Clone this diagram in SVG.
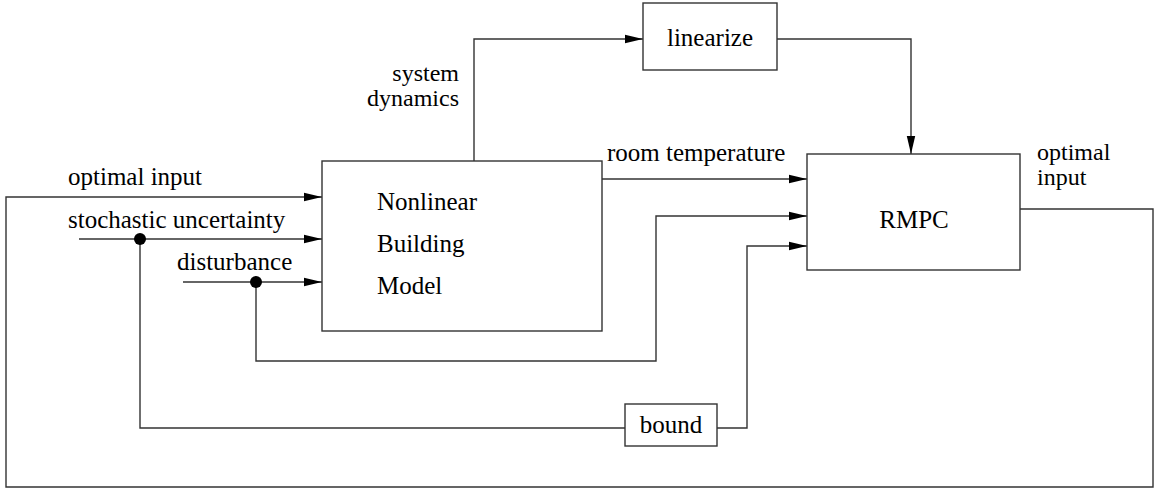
<svg xmlns="http://www.w3.org/2000/svg" width="1155" height="489" viewBox="0 0 1155 489">
<defs>
<marker id="arr" markerWidth="18" markerHeight="10" refX="18" refY="5" orient="auto" markerUnits="userSpaceOnUse">
<path d="M0,0.8 L18,5 L0,9.2 Z" fill="#000"/>
</marker>
<style>
.box{fill:#fff;stroke:#333;stroke-width:1.4}
.ln{fill:none;stroke:#333;stroke-width:1.4}
.t{font-family:"Liberation Serif","Times New Roman",serif;font-size:25px;fill:#000}
.t2{font-family:"Liberation Serif","Times New Roman",serif;font-size:24px;fill:#000}
.dot{fill:#000}
</style>
</defs>
<rect width="1155" height="489" fill="#fff"/>
<g id="connectors">
<path class="ln" d="M1020,209 H1153 V487 H6 V197 H322" marker-end="url(#arr)"/>
<path class="ln" d="M79,239 H322" marker-end="url(#arr)"/>
<path class="ln" d="M183,282 H322" marker-end="url(#arr)"/>
<path class="ln" d="M140,239 V428 H625"/>
<path class="ln" d="M717,428 H747 V246 H807" marker-end="url(#arr)"/>
<path class="ln" d="M256,282 V361 H656 V216 H807" marker-end="url(#arr)"/>
<path class="ln" d="M602,179 H807" marker-end="url(#arr)"/>
<path class="ln" d="M474,161 V39 H643" marker-end="url(#arr)"/>
<path class="ln" d="M777,39 H911 V154" marker-end="url(#arr)"/>
<circle class="dot" cx="140" cy="239" r="6"/>
<circle class="dot" cx="256" cy="282" r="6"/>
<text class="t" x="68" y="185">optimal input</text>
<text class="t" x="68" y="228">stochastic uncertainty</text>
<text class="t" x="177" y="270">disturbance</text>
<text class="t2" x="459" y="81" text-anchor="end">system</text>
<text class="t2" x="459" y="106" text-anchor="end">dynamics</text>
<text class="t" x="607" y="161">room temperature</text>
<text class="t2" x="1037" y="160">optimal</text>
<text class="t2" x="1037" y="185">input</text>
</g>
<g id="nonlinear-building-model">
<rect class="box" x="322" y="161" width="280" height="170"/>
<text class="t" x="377" y="210">Nonlinear</text>
<text class="t" x="377" y="252">Building</text>
<text class="t" x="377" y="294">Model</text>
</g>
<g id="linearize">
<rect class="box" x="643" y="3" width="134" height="67"/>
<text class="t" x="710" y="46" text-anchor="middle">linearize</text>
</g>
<g id="rmpc">
<rect class="box" x="807" y="154" width="213" height="116"/>
<text class="t" x="914" y="228" text-anchor="middle">RMPC</text>
</g>
<g id="bound">
<rect class="box" x="625" y="404" width="92" height="42"/>
<text class="t" x="671" y="433" text-anchor="middle">bound</text>
</g>
</svg>
